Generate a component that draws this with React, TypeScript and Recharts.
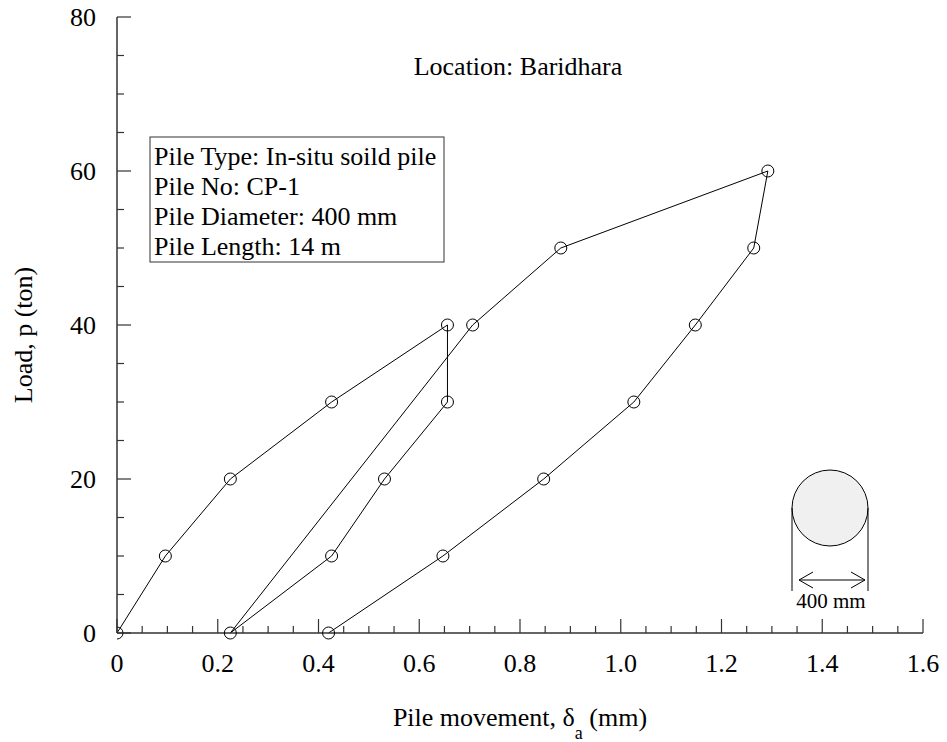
import { LineChart, Line, XAxis, YAxis, Customized } from 'recharts';

// load test path, in the order the points were recorded
const movement = [0, 0.096, 0.225, 0.426, 0.656, 0.656, 0.531, 0.426, 0.225, 0.706, 0.881, 1.292, 1.264, 1.148, 1.026, 0.847, 0.647, 0.42];
const load = [0, 10, 20, 30, 40, 30, 20, 10, 0, 40, 50, 60, 50, 40, 30, 20, 10, 0];

const xMajor = [0, 0.2, 0.4, 0.6, 0.8, 1.0, 1.2, 1.4, 1.6];
const xLabels = ['0', '0.2', '0.4', '0.6', '0.8', '1.0', '1.2', '1.4', '1.6'];
const xMinor = [0.05, 0.1, 0.15, 0.25, 0.3, 0.35, 0.45, 0.5, 0.55, 0.65, 0.7, 0.75, 0.85, 0.9, 0.95, 1.05, 1.1, 1.15, 1.25, 1.3, 1.35, 1.45, 1.5, 1.55];
const yMajor = [0, 20, 40, 60, 80];
const yLabels = ['0', '20', '40', '60', '80'];
const yMinor = [5, 10, 15, 25, 30, 35, 45, 50, 55, 65, 70, 75];

const infoLines = ['Pile Type: In-situ soild pile', 'Pile No: CP-1', 'Pile Diameter: 400 mm', 'Pile Length: 14 m'];

const data = movement.map((x, i) => ({ x, p: load[i] }));
const xTicks = [...xMajor, ...xMinor].sort((a, b) => a - b);
const yTicks = [...yMajor, ...yMinor].sort((a, b) => a - b);

const FONT = '"Liberation Serif", "Times New Roman", serif';
const AXIS = '#333';
const MAJOR = 14;
const MINOR = 7;
const FS = 26;

const BottomTick = ({ x, y, payload }: any) => {
  const i = xMajor.indexOf(payload.value);
  return (
    <g>
      <line x1={x} y1={y} x2={x} y2={y - (i >= 0 ? MAJOR : MINOR)} stroke={AXIS} strokeWidth={1.2} />
      {i >= 0 && (
        <text x={x} y={y + 39} textAnchor="middle" fontSize={FS} fill="#000" fontFamily={FONT}>
          {xLabels[i]}
        </text>
      )}
    </g>
  );
};

const TopTick = ({ x, y, payload }: any) => {
  const major = xMajor.includes(payload.value);
  return <line x1={x} y1={y} x2={x} y2={y + (major ? MAJOR : MINOR)} stroke={AXIS} strokeWidth={1.2} />;
};

const LeftTick = ({ x, y, payload }: any) => {
  const i = yMajor.indexOf(payload.value);
  return (
    <g>
      <line x1={x} y1={y} x2={x + (i >= 0 ? MAJOR : MINOR)} y2={y} stroke={AXIS} strokeWidth={1.2} />
      {i >= 0 && (
        <text x={x - 21} y={y + 9} textAnchor="end" fontSize={FS} fill="#000" fontFamily={FONT}>
          {yLabels[i]}
        </text>
      )}
    </g>
  );
};

const RightTick = ({ x, y, payload }: any) => {
  const major = yMajor.includes(payload.value);
  return <line x1={x} y1={y} x2={x - (major ? MAJOR : MINOR)} y2={y} stroke={AXIS} strokeWidth={1.2} />;
};

const XTitle = ({ viewBox }: any) => (
  <text x={viewBox.x + viewBox.width / 2} y={viewBox.y + 93} textAnchor="middle" fontSize={FS} fontFamily={FONT} fill="#000">
    Pile movement, δ
    <tspan fontSize={18} dy={13}>a</tspan>
    <tspan dy={-13}> (mm)</tspan>
  </text>
);

const YTitle = ({ viewBox }: any) => {
  const cx = 32;
  const cy = viewBox.y + viewBox.height / 2 + 10;
  return (
    <text x={cx} y={cy} transform={`rotate(-90 ${cx} ${cy})`} textAnchor="middle" fontSize={FS} fontFamily={FONT} fill="#000">
      Load, p (ton)
    </text>
  );
};

const Annotations = () => (
  <g fontFamily={FONT} fill="#000">
    <text x={518} y={75} textAnchor="middle" fontSize={FS}>Location: Baridhara</text>
    <rect x={150} y={137} width={294} height={125} fill="#fff" stroke={AXIS} strokeWidth={1} />
    {infoLines.map((t, i) => (
      <text key={t} x={154} y={165 + i * 30} fontSize={FS}>{t}</text>
    ))}
    {/* pile cross-section sketch */}
    <circle cx={830} cy={508} r={38} fill="#f0f0f0" stroke="#000" strokeWidth={1} />
    <line x1={792} y1={508} x2={792} y2={591} stroke="#000" strokeWidth={1} />
    <line x1={868} y1={508} x2={868} y2={591} stroke="#000" strokeWidth={1} />
    <line x1={799} y1={580} x2={865} y2={580} stroke="#000" strokeWidth={1} />
    <polyline points="813,572 799,580 813,588" fill="none" stroke="#000" strokeWidth={1} />
    <polyline points="851,572 865,580 851,588" fill="none" stroke="#000" strokeWidth={1} />
    <text x={831} y={608} textAnchor="middle" fontSize={21}>400 mm</text>
  </g>
);

export default function App() {
  return (
    <div style={{ position: 'absolute', left: 0, top: 0, width: 947, height: 742, background: '#fff' }}>
      <LineChart width={947} height={742} data={data} margin={{ top: 17, right: 24, bottom: 9, left: 0 }}>
        <XAxis
          dataKey="x"
          type="number"
          domain={[0, 1.6]}
          ticks={xTicks}
          interval={0}
          allowDataOverflow
          height={100}
          tickSize={0}
          tickMargin={0}
          tickLine={false}
          tick={<BottomTick />}
          axisLine={{ stroke: AXIS, strokeWidth: 1.5 }}
          label={<XTitle />}
        />
        <XAxis
          xAxisId="top"
          orientation="top"
          dataKey="x"
          type="number"
          domain={[0, 1.6]}
          ticks={xTicks}
          interval={0}
          height={0}
          tickSize={0}
          tickMargin={0}
          tickLine={false}
          tick={<TopTick />}
          axisLine={{ stroke: AXIS, strokeWidth: 1.5 }}
        />
        <YAxis
          type="number"
          domain={[0, 80]}
          ticks={yTicks}
          interval={0}
          width={117}
          tickSize={0}
          tickMargin={0}
          tickLine={false}
          tick={<LeftTick />}
          axisLine={{ stroke: AXIS, strokeWidth: 1.5 }}
          label={<YTitle />}
        />
        <YAxis
          yAxisId="right"
          orientation="right"
          type="number"
          domain={[0, 80]}
          ticks={yTicks}
          interval={0}
          width={0}
          tickSize={0}
          tickMargin={0}
          tickLine={false}
          tick={<RightTick />}
          axisLine={{ stroke: AXIS, strokeWidth: 1.5 }}
        />
        <Customized component={Annotations} />
        <Line
          dataKey="p"
          stroke="#000"
          strokeWidth={1}
          dot={{ r: 6, fill: 'none', stroke: '#000', strokeWidth: 1 }}
          isAnimationActive={false}
        />
      </LineChart>
    </div>
  );
}
